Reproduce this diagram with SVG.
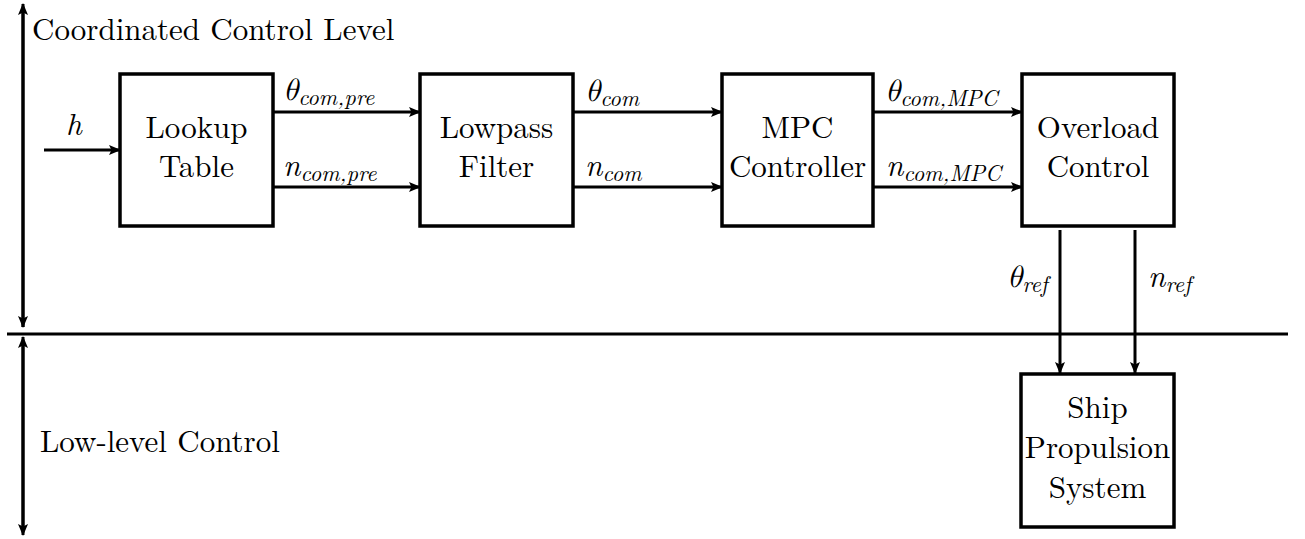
<svg xmlns="http://www.w3.org/2000/svg" width="1305" height="539" viewBox="0 0 1305 539">
<defs>
<marker id="ah" markerWidth="12" markerHeight="10" refX="11" refY="5" orient="auto" markerUnits="userSpaceOnUse">
<path d="M0,0 L12,5 L0,10 L2.5,5 Z" fill="#000"/>
</marker>
</defs>
<g id="connectors" stroke="#000" stroke-width="3" fill="none">
<line x1="23" y1="327" x2="23" y2="4" marker-end="url(#ah)"/>
<line x1="23" y1="10" x2="23" y2="327" marker-end="url(#ah)"/>
<line x1="23" y1="530" x2="23" y2="337" marker-end="url(#ah)"/>
<line x1="23" y1="345" x2="23" y2="535" marker-end="url(#ah)"/>
<line x1="7" y1="334" x2="1288" y2="334"/>
<line x1="44" y1="150" x2="120" y2="150" marker-end="url(#ah)"/>
<line x1="273" y1="112" x2="420" y2="112" marker-end="url(#ah)"/>
<line x1="273" y1="187" x2="420" y2="187" marker-end="url(#ah)"/>
<line x1="573" y1="112" x2="722" y2="112" marker-end="url(#ah)"/>
<line x1="573" y1="187" x2="722" y2="187" marker-end="url(#ah)"/>
<line x1="873" y1="112" x2="1022" y2="112" marker-end="url(#ah)"/>
<line x1="873" y1="187" x2="1022" y2="187" marker-end="url(#ah)"/>
<line x1="1060" y1="230" x2="1060" y2="373" marker-end="url(#ah)"/>
<line x1="1135" y1="230" x2="1135" y2="373" marker-end="url(#ah)"/>
</g>
<g id="labels" font-family="Latin Modern Roman, Liberation Serif, serif" font-size="31" fill="#000">
<text x="32" y="40">Coordinated Control Level</text>
<text x="40" y="452">Low-level Control</text>
<g font-style="italic">
<text x="66" y="135">h</text>
<text x="283" y="100"><tspan font-family="Latin Modern Math, Liberation Serif, serif">θ</tspan><tspan font-size="22.5" dy="5">com,pre</tspan></text>
<text x="283" y="176">n<tspan font-size="22.5" dy="5">com,pre</tspan></text>
<text x="585" y="101"><tspan font-family="Latin Modern Math, Liberation Serif, serif">θ</tspan><tspan font-size="22.5" dy="5">com</tspan></text>
<text x="585" y="176">n<tspan font-size="22.5" dy="5">com</tspan></text>
<text x="885" y="101"><tspan font-family="Latin Modern Math, Liberation Serif, serif">θ</tspan><tspan font-size="22.5" dy="5">com,MPC</tspan></text>
<text x="886" y="176">n<tspan font-size="22.5" dy="5">com,MPC</tspan></text>
<text x="1007" y="287"><tspan font-family="Latin Modern Math, Liberation Serif, serif">θ</tspan><tspan font-size="22.5" dy="5">ref</tspan></text>
<text x="1148" y="287">n<tspan font-size="22.5" dy="5">ref</tspan></text>
</g>
</g>
<g font-family="Latin Modern Roman, Liberation Serif, serif" font-size="31" fill="#000" text-anchor="middle">
<g id="lookup">
<rect x="120" y="74" width="153" height="152" fill="#fff" stroke="#000" stroke-width="3.5"/>
<text x="196.5" y="138">Lookup<tspan x="196.5" dy="39">Table</tspan></text>
</g>
<g id="lowpass">
<rect x="420" y="74" width="153" height="152" fill="#fff" stroke="#000" stroke-width="3.5"/>
<text x="496.5" y="138">Lowpass<tspan x="496.5" dy="39">Filter</tspan></text>
</g>
<g id="mpc">
<rect x="722" y="74" width="151" height="152" fill="#fff" stroke="#000" stroke-width="3.5"/>
<text x="797.5" y="138">MPC<tspan x="797.5" dy="39">Controller</tspan></text>
</g>
<g id="overload">
<rect x="1022" y="74" width="152" height="152" fill="#fff" stroke="#000" stroke-width="3.5"/>
<text x="1098" y="138">Overload<tspan x="1098" dy="39">Control</tspan></text>
</g>
<g id="ship">
<rect x="1021" y="374" width="153" height="153" fill="#fff" stroke="#000" stroke-width="3.5"/>
<text x="1097.5" y="418">Ship<tspan x="1097.5" dy="40">Propulsion</tspan><tspan x="1097.5" dy="40">System</tspan></text>
</g>
</g>
</svg>
